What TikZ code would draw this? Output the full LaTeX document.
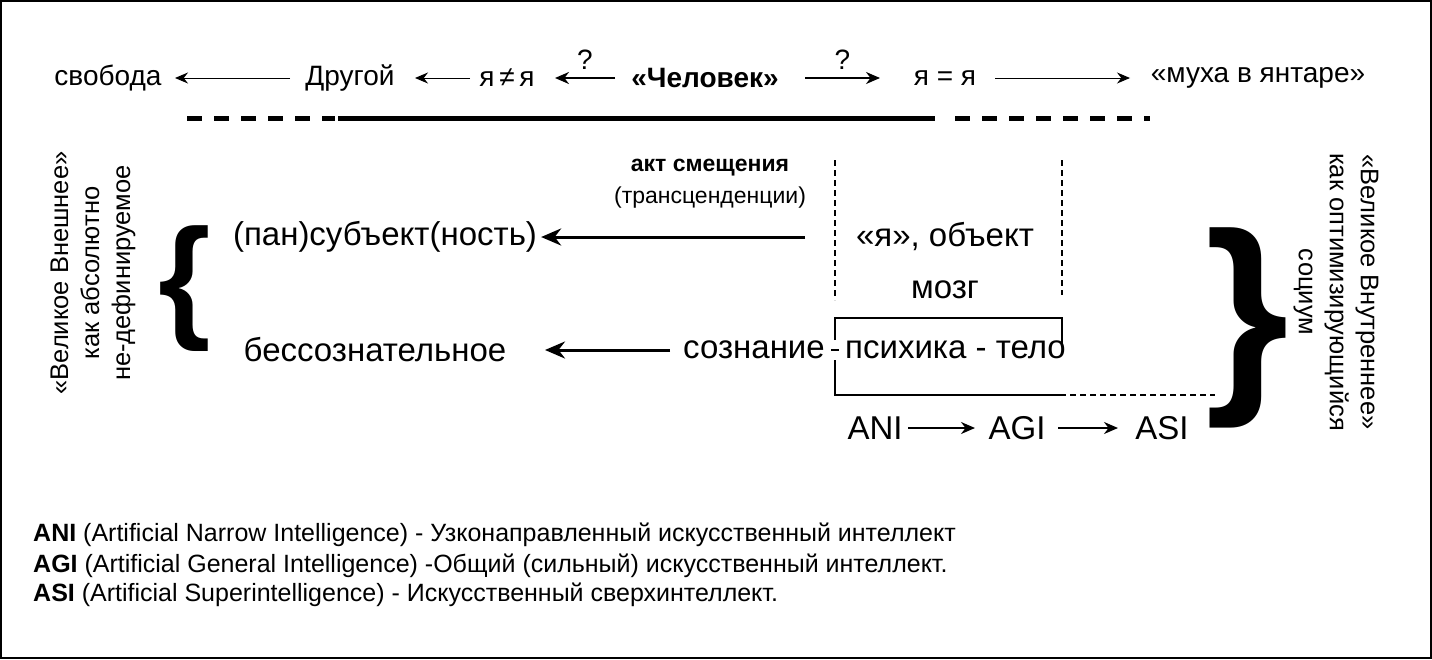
\documentclass[tikz,border=0pt]{standalone}
\usepackage{fontspec}
\setmainfont{Liberation Sans}
\usetikzlibrary{arrows.meta}
\begin{document}
\begin{tikzpicture}[x=1pt,y=-1pt,
  top/.style={font=\fontsize{28}{31}\selectfont,inner sep=0pt},
  mid/.style={font=\fontsize{33}{36}\selectfont,inner sep=0pt},
  side/.style={font=\fontsize{25.5}{31}\selectfont,inner sep=0pt,align=center},
  leg/.style={font=\fontsize{25}{27}\selectfont,inner sep=0pt,anchor=west},
  thinar/.style={-{Stealth[length=13pt,width=11pt]},line width=1pt},
  midar/.style={-{Stealth[length=14pt,width=12pt]},line width=2pt},
  bigar/.style={-{Stealth[length=20pt,width=17pt]},line width=3pt},
  vdash/.style={line width=2pt,dash pattern=on 6pt off 4pt}]
\useasboundingbox (0,0) rectangle (1432,659);
\draw[line width=1.2pt] (1,1) rectangle (1431,658);
% top row
\node[top] (svo) at (108,78) {свобода};
\node[top] (dr) at (350,78) {Другой};
\node[top] (ne) at (507,78) {я\,≠\,я};
\node[top,font=\bfseries\fontsize{28}{31}\selectfont] (ch) at (705,78) {«Человек»};
\node[top] (eq) at (945,78) {я = я};
\node[top] (mu) at (1258,78) {«муха в янтаре»};
\draw[thinar] (290,78) -- (175,78);
\draw[thinar] (470,78) -- (415,78);
\draw[midar] (615,78) -- node[above=8pt,top]{?} (555,78);
\draw[midar] (805,78) -- node[above=8pt,top]{?} (880,78);
\draw[thinar] (995,78) -- (1130,78);
% dashed bar
\draw[line width=5pt,dash pattern=on 15pt off 12pt] (187,118) -- (335,118);
\draw[line width=5pt] (338,118) -- (935,118);
\draw[line width=5pt,dash pattern=on 15pt off 12pt] (955,118) -- (1150,118);
% side texts
\node[side,rotate=90] (lt) at (93,273) {«Великое Внешнее»\\как абсолютно\\не-дефинируемое};
\node[side,rotate=-90] (rt) at (1336,292) {«Великое Внутреннее»\\как оптимизирующийся\\социум};
\node[inner sep=0pt,font=\bfseries\fontsize{135}{135}\selectfont] (lb) at (185,289) {\{};
\node[inner sep=0pt,font=\bfseries\fontsize{215}{215}\selectfont] (rb) at (1247,328) {\}};
% middle
\node[font=\bfseries\fontsize{23}{26}\selectfont,inner sep=0pt] (akt) at (710,168) {акт смещения};
\node[font=\fontsize{23}{26}\selectfont,inner sep=0pt] (tr) at (710,198) {(трансценденции)};
\node[mid] (pan) at (385,237) {(пан)субъект(ность)};
\node[mid] (ya) at (945,237) {«я», объект};
\coordinate (a1) at (805,237);
\draw[bigar] (a1) -- ([xshift=4pt]pan.east);
\draw[vdash] (835,160) -- (835,300);
\draw[vdash] (1062,160) -- (1062,295);
\node[mid] (mozg) at (945,290) {мозг};
\node[mid] (bes) at (375,350) {бессознательное};
\node[mid,anchor=east] (soz) at (825,350) {сознание};
\node[mid,anchor=west] (psy) at (845,350) {психика - тело};
\coordinate (a2) at (670,350);
\draw[bigar] (a2) -- (545,350);
\draw[line width=2pt] (835,340) -- (835,318) -- (1062,318) -- (1062,345);
\draw[line width=2pt] (831,350) -- (839,350);
\draw[line width=2pt] (835,360) -- (835,395) -- (1060,395);
\draw[vdash] (1060,395) -- (1215,395);
\node[mid] (ani) at (875,428) {ANI};
\node[mid] (agi) at (1017,428) {AGI};
\node[mid] (asi) at (1162,428) {ASI};
\draw[midar] (908,428) -- (975,428);
\draw[midar] (1058,428) -- (1118,428);
% legend
\node[leg] (l1) at (33,535) {\textbf{ANI} (Artificial Narrow Intelligence) - Узконаправленный искусственный интеллект};
\node[leg] (l2) at (33,566) {\textbf{AGI} (Artificial General Intelligence) -Общий (сильный) искусственный интеллект.};
\node[leg] (l3) at (33,595) {\textbf{ASI} (Artificial Superintelligence) - Искусственный сверхинтеллект.};
\end{tikzpicture}
\end{document}
